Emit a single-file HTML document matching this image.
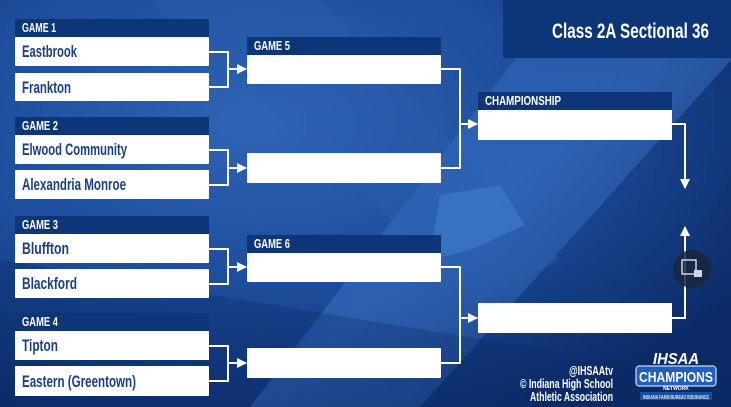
<!DOCTYPE html>
<html><head><meta charset="utf-8"><style>
html,body{margin:0;padding:0;width:731px;height:407px;overflow:hidden;background:#0d3272}
svg{display:block}
text{font-family:"Liberation Sans Narrow","Liberation Sans",sans-serif;font-weight:bold}
</style></head><body>
<svg width="731" height="407" viewBox="0 0 731 407" xmlns="http://www.w3.org/2000/svg">
<defs>
<radialGradient id="bg" cx="0.35" cy="0.3" r="0.8">
<stop offset="0" stop-color="#2f64b4"/><stop offset="0.5" stop-color="#1d4d9c"/><stop offset="1" stop-color="#0b2a66"/>
</radialGradient>
<linearGradient id="band" x1="0" y1="0" x2="1" y2="1">
<stop offset="0" stop-color="#3b74c6" stop-opacity="0"/><stop offset="0.5" stop-color="#3b74c6" stop-opacity="0.55"/><stop offset="1" stop-color="#3b74c6" stop-opacity="0"/>
</linearGradient>
<marker id="ar" viewBox="0 0 10 10" refX="9" refY="5" markerWidth="5" markerHeight="5" orient="auto"><path d="M0,0L10,5L0,10z" fill="#fff"/></marker>
</defs>
<rect width="731" height="407" fill="url(#bg)"/>
<polygon points="560,0 731,0 731,60 420,407 250,407" fill="url(#band)"/>
<polygon points="150,0 320,0 560,260 480,300" fill="#2a5fb0" opacity="0.35"/>
<polygon points="0,260 731,380 731,407 0,407" fill="#0b2a66" opacity="0.3"/>
<polygon points="440,195 500,185 525,225 470,250 430,260" fill="#3f79c9" opacity="0.7"/>
<rect x="503" y="0" width="228" height="58" fill="#0c3678"/>
<text x="552" y="38" textLength="157" lengthAdjust="spacingAndGlyphs" font-size="21" fill="#fff">Class 2A Sectional 36</text>

<g fill="#0c3678">
<rect x="15" y="19" width="194" height="18"/><rect x="15" y="117" width="194" height="18"/>
<rect x="15" y="216" width="194" height="18"/><rect x="15" y="313" width="194" height="18"/>
<rect x="247" y="37" width="194" height="18"/><rect x="247" y="235" width="194" height="18"/>
<rect x="478" y="92" width="194" height="18"/>
</g>
<g fill="#fff" font-size="13">
<text x="22" y="32" textLength="34" lengthAdjust="spacingAndGlyphs">GAME 1</text>
<text x="22" y="130" textLength="36" lengthAdjust="spacingAndGlyphs">GAME 2</text>
<text x="22" y="229" textLength="36" lengthAdjust="spacingAndGlyphs">GAME 3</text>
<text x="22" y="326" textLength="36" lengthAdjust="spacingAndGlyphs">GAME 4</text>
<text x="254" y="50" textLength="36" lengthAdjust="spacingAndGlyphs">GAME 5</text>
<text x="254" y="248" textLength="36" lengthAdjust="spacingAndGlyphs">GAME 6</text>
<text x="485" y="105" textLength="76" lengthAdjust="spacingAndGlyphs">CHAMPIONSHIP</text>
</g>
<g fill="#fff">
<rect x="15" y="37" width="194" height="29"/><rect x="15" y="73" width="194" height="28"/>
<rect x="15" y="135" width="194" height="29"/><rect x="15" y="170" width="194" height="29"/>
<rect x="15" y="234" width="194" height="29"/><rect x="15" y="269" width="194" height="29"/>
<rect x="15" y="331" width="194" height="29"/><rect x="15" y="366" width="194" height="30"/>
<rect x="247" y="55" width="194" height="29"/><rect x="247" y="153" width="194" height="30"/>
<rect x="247" y="253" width="194" height="29"/><rect x="247" y="348" width="194" height="30"/>
<rect x="478" y="110" width="194" height="30"/><rect x="478" y="303" width="194" height="30"/>
</g>
<g fill="#1b3f86" font-size="16.5">
<text x="22" y="57" textLength="55" lengthAdjust="spacingAndGlyphs">Eastbrook</text>
<text x="22" y="93" textLength="49" lengthAdjust="spacingAndGlyphs">Frankton</text>
<text x="22" y="155" textLength="105" lengthAdjust="spacingAndGlyphs">Elwood Community</text>
<text x="22" y="190" textLength="104" lengthAdjust="spacingAndGlyphs">Alexandria Monroe</text>
<text x="22" y="254" textLength="47" lengthAdjust="spacingAndGlyphs">Bluffton</text>
<text x="22" y="289" textLength="55" lengthAdjust="spacingAndGlyphs">Blackford</text>
<text x="22" y="351" textLength="36" lengthAdjust="spacingAndGlyphs">Tipton</text>
<text x="22" y="387" textLength="114" lengthAdjust="spacingAndGlyphs">Eastern (Greentown)</text>
</g>
<g stroke="#fff" stroke-width="2" fill="none">
<path d="M209,52H228V87H209"/><path d="M228,69H246" marker-end="url(#ar)"/>
<path d="M209,150H228V185H209"/><path d="M228,168H246" marker-end="url(#ar)"/>
<path d="M209,249H228V284H209"/><path d="M228,267H246" marker-end="url(#ar)"/>
<path d="M209,346H228V381H209"/><path d="M228,363H246" marker-end="url(#ar)"/>
<path d="M441,69H460V168H441"/><path d="M460,124H477" marker-end="url(#ar)"/>
<path d="M441,267H460V363H441"/><path d="M460,318H477" marker-end="url(#ar)"/>
<path d="M672,124H685V188" marker-end="url(#ar)"/>
<path d="M672,318H685V227" marker-end="url(#ar)"/>
</g>
<circle cx="692" cy="269" r="19" fill="#1a2440" opacity="0.85"/>
<rect x="682" y="260" width="14" height="14" fill="none" stroke="#cfd6e4" stroke-width="1.5"/>
<rect x="694" y="270" width="8" height="7" fill="#cfd6e4"/>
<g fill="#fff" font-size="13">
<text x="569" y="375" textLength="44" lengthAdjust="spacingAndGlyphs">@IHSAAtv</text>
<text x="520" y="388" textLength="93" lengthAdjust="spacingAndGlyphs">© Indiana High School</text>
<text x="530" y="401" textLength="83" lengthAdjust="spacingAndGlyphs">Athletic Association</text>
</g>
<text x="653" y="364" textLength="46" lengthAdjust="spacingAndGlyphs" font-size="16" fill="#fff" font-style="italic" font-family="Liberation Serif">IHSAA</text>
<rect x="636" y="366" width="80" height="20" rx="3" fill="#1f5fc0" stroke="#fff" stroke-width="1"/>
<text x="639" y="382" textLength="74" lengthAdjust="spacingAndGlyphs" font-size="15" fill="#fff">CHAMPIONS</text>
<text x="676" y="390" text-anchor="middle" font-size="5" fill="#fff">NETWORK</text>
<rect x="640" y="392" width="72" height="8" fill="#174e9e"/>
<text x="643" y="399" textLength="66" lengthAdjust="spacingAndGlyphs" font-size="5" fill="#dfe8f6">INDIANA FARM BUREAU INSURANCE</text>
</svg>
</body></html>
